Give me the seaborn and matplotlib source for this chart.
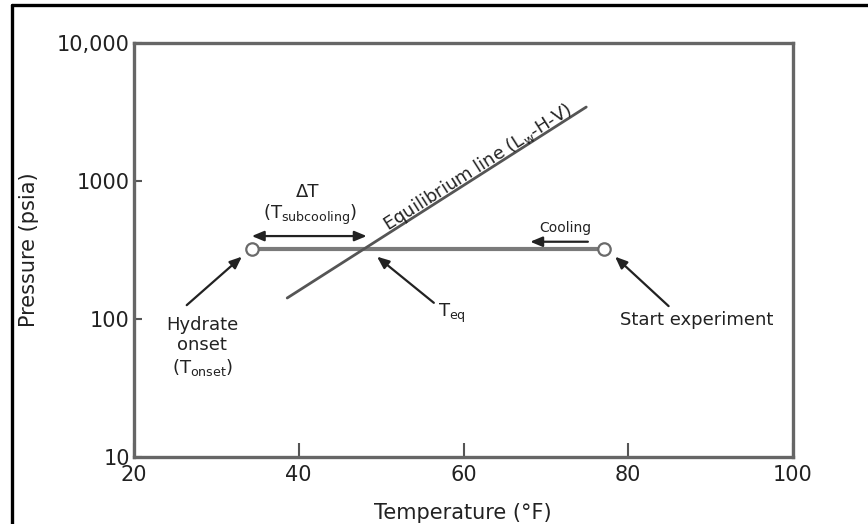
import matplotlib
matplotlib.use("Agg")
import matplotlib.pyplot as plt
import seaborn as sns
import pandas as pd
from matplotlib.lines import Line2D
from matplotlib.ticker import NullLocator, FixedLocator, FixedFormatter

sns.set_theme(style="white")
plt.rcParams['font.family'] = ['DejaVu Sans']
plt.rcParams['mathtext.default'] = 'regular'

# ---- data ----
eq_temp = [38.6, 74.9]          # equilibrium line (°F)
eq_pres = [142, 3435]           # equilibrium line (psia)
cool_temp = [34.3, 77.0]        # isobaric cooling path (°F)
cool_pres = [320, 320]          # psia
point_labels = ["Hydrate onset", "Start experiment"]
x_ticks = [20, 40, 60, 80, 100]
x_tick_labels = ["20", "40", "60", "80", "100"]
y_ticks = [10, 100, 1000, 10000]
y_tick_labels = ["10", "100", "1000", "10,000"]

eq_df = pd.DataFrame({"T": eq_temp, "P": eq_pres})
cool_df = pd.DataFrame({"T": cool_temp, "P": cool_pres, "label": point_labels})

W, H = 868, 524
fig = plt.figure(figsize=(W / 100, H / 100), dpi=100)
ax = fig.add_axes([134 / W, (H - 457) / H, (793 - 134) / W, (457 - 43) / H])

line_col = "#555555"
text_col = "#222222"

sns.lineplot(data=cool_df, x="T", y="P", ax=ax, color="#7a7a7a", lw=3,
             estimator=None, sort=False, zorder=2)
sns.lineplot(data=eq_df, x="T", y="P", ax=ax, color=line_col, lw=2,
             estimator=None, sort=False, zorder=3)
sns.scatterplot(data=cool_df, x="T", y="P", ax=ax, s=80, color="white",
                edgecolor="#6a6a6a", linewidth=1.6, zorder=4, legend=False)

ax.set_xscale("linear")
ax.set_yscale("log")
ax.set_xlim(20, 100)
ax.set_ylim(10, 10000)
ax.xaxis.set_major_locator(FixedLocator(x_ticks))
ax.xaxis.set_major_formatter(FixedFormatter(x_tick_labels))
ax.yaxis.set_major_locator(FixedLocator(y_ticks))
ax.yaxis.set_major_formatter(FixedFormatter(y_tick_labels))
ax.yaxis.set_minor_locator(NullLocator())
ax.xaxis.set_minor_locator(NullLocator())
ax.tick_params(axis="x", which="major", bottom=True, top=False, direction="in",
               length=10, width=1.5, color=line_col,
               labelsize=15, labelcolor=text_col, pad=6)
ax.tick_params(axis="y", which="major", left=True, right=False, direction="in",
               length=6, width=1.5, color=line_col,
               labelsize=15, labelcolor=text_col, pad=3)

for s in ax.spines.values():
    s.set_visible(True)
    s.set_color("#666666")
    s.set_linewidth(2.4)

ax.set_xlabel("Temperature (°F)", fontsize=15, color=text_col)
ax.set_ylabel("Pressure (psia)", fontsize=15, color=text_col)
ax.xaxis.set_label_coords(0.499, -0.111)
ax.yaxis.set_label_coords(-0.144, 0.5)

arrow_kw = dict(arrowstyle="-|>,head_length=0.6,head_width=0.25", color="#222222", lw=1.6,
                shrinkA=0, shrinkB=0)

# Hydrate onset
ax.annotate("", xy=(33.1, 283), xytext=(26.4, 126), arrowprops=arrow_kw)
ax.text(28.3, 105, "Hydrate\nonset\n(T$_{onset}$)", ha="center", va="top",
        fontsize=13, color=text_col, linespacing=1.15)

# T_eq
ax.annotate("", xy=(49.5, 283), xytext=(56.4, 131), arrowprops=arrow_kw)
ax.text(58.6, 110, "T$_{eq}$", ha="center", va="center", fontsize=13, color=text_col)

# Start experiment
ax.annotate("", xy=(78.4, 283), xytext=(84.9, 124), arrowprops=arrow_kw)
ax.text(88.3, 98, "Start experiment", ha="center", va="center", fontsize=13, color=text_col)

# Delta T (subcooling)
ax.annotate("", xy=(34.3, 399), xytext=(48.25, 399),
            arrowprops=dict(arrowstyle="<|-|>,head_length=0.6,head_width=0.25",
                            color="#222222", lw=1.6, shrinkA=0, shrinkB=0))
ax.text(41.1, 836, "ΔT", ha="center", va="center", fontsize=13, color=text_col)
ax.text(41.4, 567, "(T$_{subcooling}$)", ha="center", va="center", fontsize=13, color=text_col)

# Cooling
ax.annotate("", xy=(68.1, 363), xytext=(75.1, 363), arrowprops=arrow_kw)
ax.text(72.3, 456, "Cooling", ha="center", va="center", fontsize=10, color=text_col)

# Equilibrium line label
ax.text(61.8, 1250, "Equilibrium line (L$_w$-H-V)", ha="center", va="center",
        rotation=32.5, rotation_mode="anchor", fontsize=13, color=text_col)

# outer frame (top and left edges)
fig.add_artist(Line2D([12 / W, 1.0], [1 - 5 / H, 1 - 5 / H], color="black", lw=2.4,
                      transform=fig.transFigure))
fig.add_artist(Line2D([12 / W, 12 / W], [0.0, 1 - 5 / H], color="black", lw=2.4,
                      transform=fig.transFigure))

fig.savefig("out.png", dpi=100, facecolor="white")
